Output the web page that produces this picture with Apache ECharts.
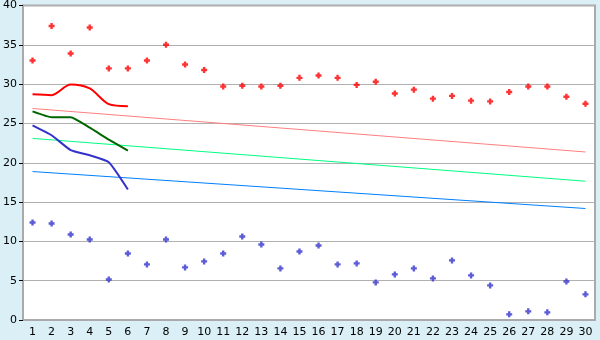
<!DOCTYPE html>
<html><head><meta charset="utf-8">
<script src="https://cdn.jsdelivr.net/npm/echarts@6/dist/echarts.min.js"></script>
<style>html,body{margin:0;padding:0;background:#daeff6;}#c{width:600px;height:340px;}</style>
</head><body><div id="c"></div>
<script>
const categories = ['1','2','3','4','5','6','7','8','9','10','11','12','13','14','15','16','17','18','19','20','21','22','23','24','25','26','27','28','29','30'];
const redPoints = [33.0,37.4,33.9,37.2,32.0,32.0,33.0,35.0,32.5,31.8,29.7,29.8,29.7,29.8,30.8,31.1,30.8,29.9,30.3,28.8,29.3,28.15,28.5,27.9,27.8,29.0,29.7,29.7,28.4,27.5];
const bluePoints = [12.4,12.27,10.88,10.24,5.16,8.46,7.07,10.24,6.69,7.45,8.46,10.62,9.6,6.56,8.72,9.48,7.07,7.2,4.78,5.8,6.56,5.29,7.58,5.67,4.4,0.72,1.1,0.97,4.9,3.26];
const redLine = [28.7,28.6,29.95,29.45,27.45,27.2];
const greenLine = [26.54,25.8,25.8,24.46,22.94,21.54];
const blueLine = [24.76,23.5,21.6,20.95,20.06,16.6];
const pinkTrend = [26.9,21.37];
const lightGreenTrend = [23.1,17.65];
const blueTrend = [18.88,14.18];
const yTicks = [0,5,10,15,20,25,30,35,40];

const plusFat = 'path://M1.5,0H3.5V1.5H5V3.5H3.5V5H1.5V3.5H0V1.5H1.5Z';
function ends(a){ return [[0,a[0]],[categories.length-1,a[1]]]; }
const chart = echarts.init(document.getElementById('c'));
chart.setOption({
  backgroundColor:'#daeff6',
  animation:false,
  textStyle:{fontFamily:'DejaVu Sans'},
  grid:{left:20,top:5,width:575,height:315,show:true,backgroundColor:'#ffffff',borderColor:'#aaaaaa',borderWidth:2},
  xAxis:{type:'category',data:categories,boundaryGap:true,
    axisLine:{lineStyle:{color:'#aaaaaa',width:2}},
    axisTick:{alignWithLabel:true,length:5,lineStyle:{color:'#000'}},
    axisLabel:{color:'#000',fontSize:11,margin:7,interval:0},
    splitLine:{show:false}},
  yAxis:{type:'value',min:yTicks[0],max:yTicks[yTicks.length-1],interval:5,
    axisLine:{show:true,lineStyle:{color:'#aaaaaa',width:2}},
    axisTick:{show:true,length:4,lineStyle:{color:'#000'}},
    axisLabel:{color:'#000',fontSize:11,margin:6},
    splitLine:{lineStyle:{color:'#b0b0b0',width:1}}},
  series:[
    {type:'line',data:ends(pinkTrend),symbol:'none',lineStyle:{color:'#ff8080',width:1}},
    {type:'line',data:ends(lightGreenTrend),symbol:'none',lineStyle:{color:'#00ff80',width:1}},
    {type:'line',data:ends(blueTrend),symbol:'none',lineStyle:{color:'#0080ff',width:1}},
    {type:'line',data:redLine,symbol:'none',smooth:0.3,lineStyle:{color:'#ff0000',width:2}},
    {type:'line',data:greenLine,symbol:'none',smooth:0.15,lineStyle:{color:'#006600',width:2}},
    {type:'line',data:blueLine,symbol:'none',smooth:0.15,lineStyle:{color:'#3333cc',width:2}},
    {type:'scatter',data:redPoints,symbol:plusFat,symbolSize:6,itemStyle:{color:'#ff0000'}},
    {type:'scatter',data:bluePoints,symbol:plusFat,symbolSize:6,itemStyle:{color:'#3333cc'}}
  ]
});
</script></body></html>
